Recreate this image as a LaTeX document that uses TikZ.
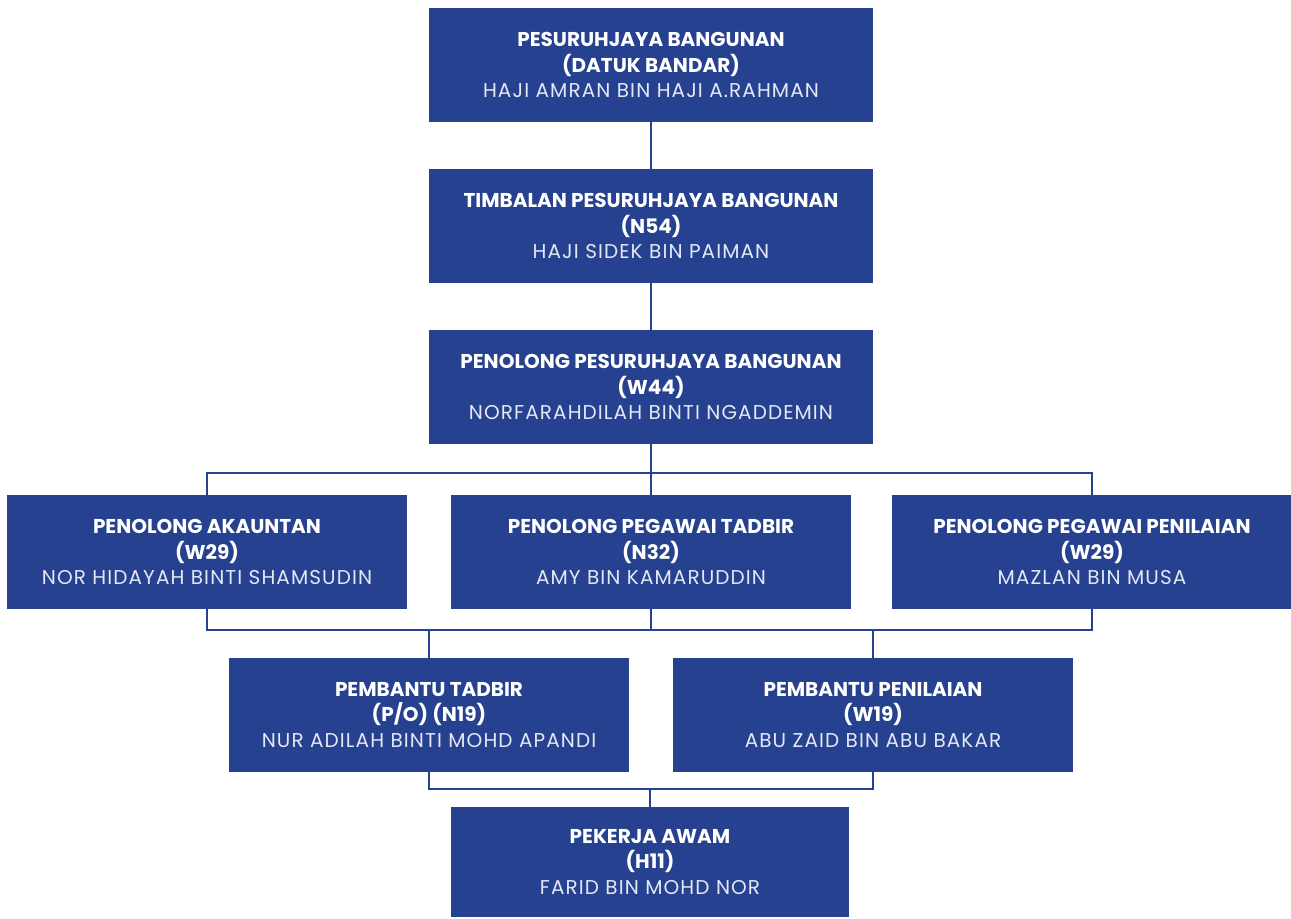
\documentclass[tikz,border=0pt]{standalone}
\usepackage{fontspec}
\setmainfont{Poppins}
\definecolor{navy}{RGB}{38,65,143}
\definecolor{namec}{RGB}{228,232,244}
\begin{document}
\begin{tikzpicture}[x=0.75pt,y=-0.75pt,
  box/.style={fill=navy, text=white, inner sep=0pt, align=center,
    font=\fontsize{15}{19}\selectfont},
  big/.style={box, minimum width=333pt, minimum height=85.5pt},
  mid/.style={box, minimum width=300pt, minimum height=85.5pt},
  low/.style={box, minimum width=298.5pt, minimum height=82.5pt},
  conn/.style={draw=navy, line width=1.5pt}]
\useasboundingbox (0,0) rectangle (1291,918);
\newcommand{\nm}[1]{{\addfontfeature{LetterSpace=5.5}\color{namec}#1}}
\node[big] (a) at (651,65) {\textbf{PESURUHJAYA BANGUNAN}\\\textbf{(DATUK BANDAR)}\\\nm{HAJI AMRAN BIN HAJI A.RAHMAN}};
\node[big] (b) at (651,226) {\textbf{TIMBALAN PESURUHJAYA BANGUNAN}\\\textbf{(N54)}\\\nm{HAJI SIDEK BIN PAIMAN}};
\node[big] (c) at (651,387) {\textbf{PENOLONG PESURUHJAYA BANGUNAN}\\\textbf{(W44)}\\\nm{NORFARAHDILAH BINTI NGADDEMIN}};
\node[mid] (pa) at (207,552) {\textbf{PENOLONG AKAUNTAN}\\\textbf{(W29)}\\\nm{NOR HIDAYAH BINTI SHAMSUDIN}};
\node[mid] (pb) at (651,552) {\textbf{PENOLONG PEGAWAI TADBIR}\\\textbf{(N32)}\\\nm{AMY BIN KAMARUDDIN}};
\node[mid] (pc) at (1092,552) {\textbf{PENOLONG PEGAWAI PENILAIAN}\\\textbf{(W29)}\\\nm{MAZLAN BIN MUSA}};
\node[mid] (pd) at (429,715) {\textbf{PEMBANTU TADBIR}\\\textbf{(P/O) (N19)}\\\nm{NUR ADILAH BINTI MOHD APANDI}};
\node[mid] (pe) at (873,715) {\textbf{PEMBANTU PENILAIAN}\\\textbf{(W19)}\\\nm{ABU ZAID BIN ABU BAKAR}};
\node[low] (f) at (650,862) {\textbf{PEKERJA AWAM}\\\textbf{(H11)}\\\nm{FARID BIN MOHD NOR}};
\coordinate (j1) at (651,473);
\coordinate (j2) at (651,630);
\coordinate (j3) at (651,789);
\draw[conn] (a) -- (b);
\draw[conn] (b) -- (c);
\draw[conn] (c) -- (j1);
\draw[conn] (pa.north) -- (pa.north |- j1) -- (pc.north |- j1) -- (pc.north);
\draw[conn] (j1) -- (pb.north);
\draw[conn] (pa.south) -- (pa.south |- j2) -- (pc.south |- j2) -- (pc.south);
\draw[conn] (pb.south) -- (pb.south |- j2);
\draw[conn] (pd.north) -- (pd.north |- j2);
\draw[conn] (pe.north) -- (pe.north |- j2);
\draw[conn] (pd.south) -- (pd.south |- j3) -- (pe.south |- j3) -- (pe.south);
\draw[conn] (f.north |- j3) -- (f.north);
\end{tikzpicture}
\end{document}
